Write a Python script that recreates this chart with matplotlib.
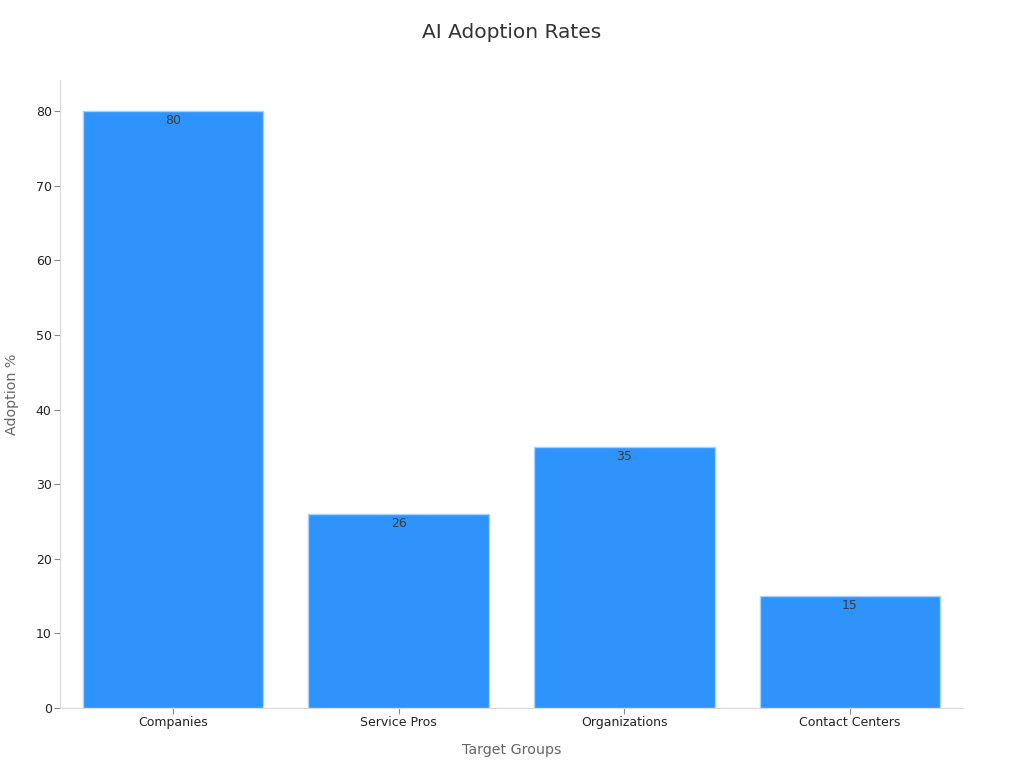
import matplotlib
matplotlib.use("Agg")
import matplotlib.pyplot as plt

# Chart data
groups = ["Companies", "Service Pros", "Organizations", "Contact Centers"]
adoption = [80, 26, 35, 15]

plt.rcParams['font.family'] = ['DejaVu Sans']

fig = plt.figure(figsize=(10.24, 7.68), dpi=100)
ax = fig.add_axes([0.0586, 0.078, 0.8818, 0.818])

bars = ax.bar(range(len(groups)), adoption, width=0.8, color="#2E93FA",
              edgecolor="#A8D1FD", linewidth=1)

# Value labels just inside top of each bar
for b, v in zip(bars, adoption):
    ax.text(b.get_x() + b.get_width() / 2, v - 0.4, f"{v}", ha="center", va="top",
            fontsize=9, color="#373D3F")

ax.set_xlim(-0.5, 3.5)
ax.set_ylim(0, 84.2)
ax.set_yticks(range(0, 81, 10))
ax.set_xticks(range(len(groups)))
ax.set_xticklabels(groups)

ax.tick_params(axis="both", labelsize=9, colors="#888888", labelcolor="#222222", length=4)
ax.tick_params(axis="x", pad=2)
ax.tick_params(axis="y", pad=2)

for side in ["top", "right"]:
    ax.spines[side].set_visible(False)
ax.spines["left"].set_color("#D9D9D9")
ax.spines["bottom"].set_color("#D9D9D9")

ax.set_xlabel("Target Groups", fontsize=10.3, color="#666666", labelpad=10)
ax.set_ylabel("Adoption %", fontsize=10.3, color="#666666", labelpad=12)
fig.suptitle("AI Adoption Rates", fontsize=14.5, color="#333333", y=0.97)

fig.savefig("out.png", dpi=100)
